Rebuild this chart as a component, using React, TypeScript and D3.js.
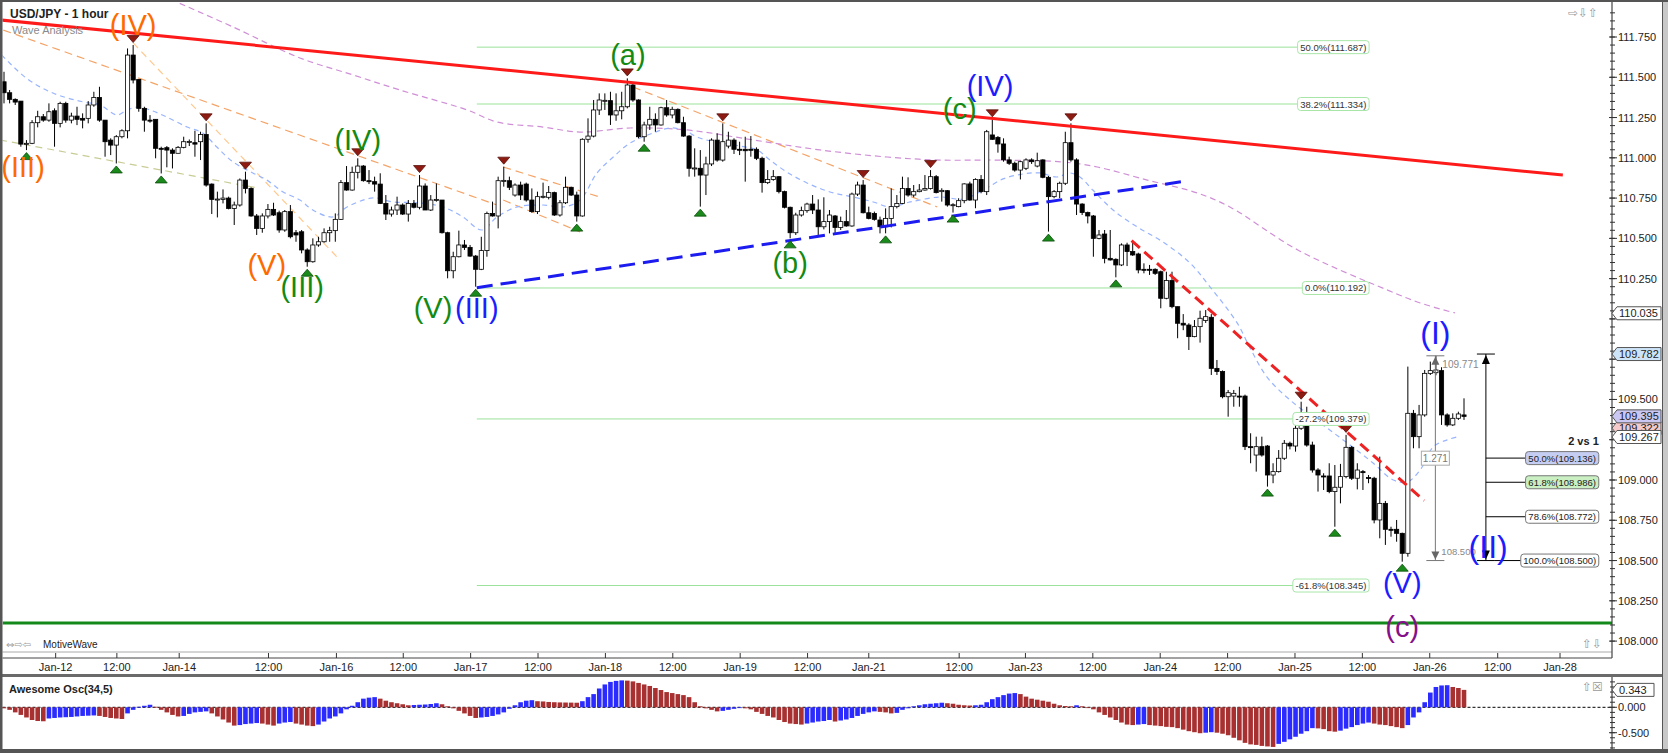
import React, { useEffect } from 'react';
import * as d3 from 'd3';

// ---------- DATA ----------
const opens = [111.472,111.404,111.363,111.352,111.085,111.090,111.218,111.255,111.234,111.292,111.214,111.338,111.234,111.259,111.245,111.245,111.328,111.375,111.234,111.110,111.079,111.131,111.168,111.638,111.487,111.307,111.234,111.239,111.059,111.063,111.048,111.028,111.065,111.100,111.094,111.100,111.145,110.837,110.742,110.742,110.750,110.686,110.707,110.862,110.810,110.639,110.562,110.639,110.680,110.659,110.552,110.666,110.535,110.541,110.428,110.355,110.459,110.479,110.535,110.548,110.618,110.846,110.800,110.910,110.949,110.858,110.852,110.837,110.717,110.651,110.676,110.707,110.651,110.717,110.693,110.825,110.676,110.738,110.738,110.535,110.299,110.386,110.459,110.444,110.390,110.308,110.424,110.655,110.639,110.858,110.858,110.769,110.831,110.837,110.738,110.666,110.759,110.755,110.784,110.645,110.721,110.817,110.769,110.639,111.115,111.135,111.297,111.355,111.355,111.266,111.292,111.317,111.452,111.359,111.131,111.204,111.239,111.204,111.311,111.266,111.301,111.218,111.135,110.935,110.935,110.893,110.962,111.110,110.986,111.073,111.110,111.053,111.053,111.053,111.053,110.997,110.846,110.866,110.883,110.790,110.693,110.535,110.645,110.672,110.713,110.676,110.572,110.604,110.639,110.568,110.604,110.577,110.775,110.831,110.659,110.655,110.614,110.572,110.624,110.697,110.717,110.810,110.769,110.790,110.800,110.810,110.883,110.790,110.796,110.707,110.697,110.734,110.838,110.738,110.866,110.790,111.142,111.127,111.086,110.987,110.966,110.924,110.935,110.987,110.949,110.987,110.879,110.759,110.790,110.842,111.094,110.987,110.713,110.660,110.639,110.500,110.527,110.376,110.370,110.335,110.459,110.418,110.403,110.308,110.308,110.308,110.293,110.128,110.238,110.076,109.973,109.962,109.890,109.952,109.990,110.010,109.693,109.673,109.517,109.521,109.521,109.521,109.207,109.155,109.207,109.211,109.031,109.052,109.135,109.228,109.211,109.321,109.377,109.217,109.062,109.025,109.025,108.928,108.955,109.021,109.203,109.011,109.052,109.015,109.011,108.752,108.855,108.694,108.694,108.669,108.545,109.414,109.269,109.404,109.662,109.666,109.679,109.404,109.342,109.383,109.404];
const highs = [111.534,111.421,111.369,111.352,111.110,111.234,111.292,111.272,111.338,111.307,111.348,111.348,111.280,111.317,111.276,111.352,111.410,111.441,111.234,111.121,111.141,111.177,111.679,111.700,111.487,111.317,111.265,111.239,111.069,111.073,111.059,111.073,111.131,111.114,111.168,111.162,111.214,110.841,110.790,110.804,110.759,110.728,110.872,110.914,110.817,110.651,110.655,110.713,110.721,110.672,110.676,110.707,110.552,110.552,110.438,110.500,110.510,110.562,110.572,110.655,110.862,110.949,110.945,110.997,110.955,110.924,110.883,110.904,110.769,110.697,110.759,110.717,110.738,110.738,110.893,110.841,110.769,110.841,110.738,110.541,110.417,110.548,110.490,110.459,110.397,110.510,110.666,110.728,110.883,110.945,110.883,110.841,110.852,110.846,110.810,110.790,110.846,110.825,110.790,110.738,110.883,110.821,110.790,111.121,111.245,111.359,111.400,111.400,111.410,111.400,111.410,111.493,111.462,111.363,111.224,111.317,111.276,111.317,111.359,111.317,111.307,111.255,111.141,111.059,111.048,111.007,111.121,111.152,111.214,111.162,111.121,111.100,111.131,111.135,111.065,111.007,110.924,110.924,110.887,110.796,110.697,110.659,110.697,110.721,110.769,110.742,110.755,110.676,110.645,110.635,110.676,110.784,110.852,110.862,110.697,110.666,110.635,110.686,110.810,110.769,110.883,110.879,110.831,110.837,110.893,110.924,110.893,110.811,110.800,110.718,110.749,110.842,110.852,110.873,110.893,111.173,111.239,111.135,111.121,111.007,110.976,110.982,110.997,110.997,111.032,110.991,110.887,110.800,110.852,111.162,111.214,110.997,110.718,110.666,110.645,110.552,110.552,110.552,110.376,110.469,110.473,110.480,110.411,110.345,110.335,110.314,110.300,110.293,110.293,110.076,110.030,109.973,109.993,110.051,110.055,110.030,109.745,109.680,109.559,109.559,109.579,109.530,109.290,109.269,109.269,109.217,109.104,109.186,109.248,109.238,109.362,109.486,109.455,109.238,109.073,109.042,109.104,109.093,109.100,109.280,109.211,109.104,109.062,109.031,109.020,109.145,108.870,108.710,108.752,108.673,109.704,109.435,109.466,109.683,109.735,109.771,109.700,109.414,109.414,109.424,109.507];
const lows = [111.338,111.338,111.328,111.069,111.048,111.085,111.189,111.224,111.224,111.069,111.189,111.218,111.214,111.203,111.183,111.214,111.317,111.224,111.007,111.017,110.965,111.121,111.121,111.462,111.286,111.162,111.218,110.997,110.903,110.941,110.934,111.028,111.059,111.073,111.007,110.986,110.821,110.651,110.630,110.717,110.680,110.583,110.697,110.779,110.634,110.521,110.535,110.624,110.639,110.535,110.541,110.500,110.479,110.407,110.324,110.349,110.448,110.473,110.479,110.479,110.614,110.796,110.796,110.872,110.852,110.837,110.790,110.713,110.614,110.635,110.645,110.645,110.604,110.686,110.680,110.676,110.670,110.728,110.530,110.252,110.252,110.382,110.428,110.386,110.200,110.303,110.386,110.635,110.562,110.821,110.800,110.759,110.738,110.728,110.659,110.651,110.748,110.742,110.639,110.635,110.713,110.763,110.604,110.635,111.094,111.127,111.266,111.297,111.204,111.230,111.239,111.307,111.348,111.121,111.100,111.173,111.162,111.200,111.255,111.245,111.214,111.131,110.883,110.883,110.697,110.769,110.949,110.976,110.976,111.059,111.024,111.017,110.852,111.007,110.986,110.784,110.837,110.858,110.779,110.686,110.500,110.521,110.635,110.659,110.651,110.521,110.556,110.531,110.531,110.552,110.572,110.572,110.763,110.655,110.618,110.610,110.531,110.531,110.568,110.686,110.713,110.759,110.755,110.786,110.796,110.803,110.779,110.728,110.697,110.660,110.693,110.718,110.734,110.687,110.780,110.769,111.111,111.032,110.976,110.956,110.914,110.866,110.924,110.962,110.941,110.873,110.542,110.749,110.749,110.831,110.976,110.645,110.645,110.593,110.386,110.494,110.345,110.362,110.258,110.328,110.328,110.391,110.283,110.283,110.273,110.273,110.066,110.122,110.066,109.880,109.930,109.807,109.886,109.853,109.975,109.652,109.652,109.507,109.393,109.455,109.455,109.186,109.104,109.052,109.145,108.959,108.980,109.046,109.124,109.190,109.176,109.311,109.207,109.046,108.928,108.938,108.918,108.710,108.855,109.011,109.000,108.942,108.938,108.980,108.731,108.638,108.597,108.648,108.617,108.493,108.524,109.197,109.197,109.393,109.652,109.650,109.342,109.331,109.335,109.373,109.373];
const closes = [111.404,111.363,111.346,111.085,111.090,111.218,111.255,111.234,111.286,111.214,111.338,111.234,111.259,111.239,111.234,111.328,111.375,111.234,111.100,111.079,111.131,111.168,111.638,111.483,111.307,111.234,111.230,111.059,111.056,111.048,111.028,111.065,111.100,111.102,111.085,111.145,110.831,110.742,110.744,110.750,110.686,110.707,110.862,110.810,110.639,110.562,110.639,110.680,110.645,110.552,110.666,110.510,110.521,110.428,110.355,110.459,110.479,110.535,110.548,110.618,110.846,110.800,110.910,110.949,110.858,110.852,110.837,110.717,110.651,110.676,110.707,110.651,110.717,110.693,110.825,110.676,110.738,110.742,110.535,110.299,110.386,110.459,110.444,110.390,110.308,110.424,110.655,110.639,110.858,110.860,110.817,110.831,110.769,110.738,110.666,110.759,110.761,110.784,110.645,110.721,110.817,110.769,110.639,111.115,111.135,111.297,111.359,111.357,111.266,111.292,111.317,111.452,111.359,111.131,111.204,111.239,111.204,111.311,111.266,111.301,111.218,111.135,110.935,110.937,110.893,110.962,111.110,110.986,111.100,111.110,111.053,111.048,111.044,111.051,110.997,110.846,110.866,110.883,110.790,110.693,110.535,110.645,110.672,110.713,110.676,110.572,110.604,110.645,110.568,110.604,110.577,110.775,110.831,110.659,110.624,110.618,110.572,110.624,110.697,110.717,110.810,110.769,110.790,110.800,110.810,110.883,110.784,110.798,110.707,110.709,110.734,110.838,110.738,110.866,110.790,111.162,111.115,111.086,110.987,110.966,110.924,110.976,110.987,110.976,110.982,110.879,110.759,110.790,110.842,111.094,110.987,110.713,110.660,110.639,110.500,110.521,110.376,110.366,110.335,110.459,110.418,110.397,110.304,110.306,110.304,110.283,110.128,110.238,110.076,109.973,109.962,109.890,109.952,110.004,110.014,109.693,109.673,109.517,109.542,109.538,109.519,109.207,109.205,109.207,109.155,109.031,109.052,109.135,109.228,109.211,109.321,109.377,109.217,109.062,109.031,109.023,108.928,108.955,109.021,109.203,109.011,109.062,109.050,109.013,108.752,108.855,108.694,108.692,108.669,108.545,109.414,109.269,109.404,109.662,109.679,109.683,109.404,109.342,109.383,109.410,109.395];

const aoValues = [-0.02,-0.05,-0.10,-0.15,-0.20,-0.25,-0.27,-0.275,-0.22,-0.21,-0.20,-0.195,-0.19,-0.18,-0.17,-0.165,-0.16,-0.17,-0.19,-0.21,-0.22,-0.23,-0.12,-0.05,0.01,0.03,0.05,0.01,-0.05,-0.10,-0.15,-0.18,-0.17,-0.13,-0.10,-0.09,-0.08,-0.12,-0.18,-0.24,-0.30,-0.36,-0.35,-0.33,-0.32,-0.31,-0.32,-0.34,-0.36,-0.32,-0.30,-0.29,-0.32,-0.34,-0.36,-0.37,-0.34,-0.28,-0.22,-0.18,-0.12,-0.04,0.03,0.10,0.17,0.19,0.20,0.17,0.13,0.10,0.08,0.06,0.04,0.045,0.05,0.055,0.065,0.08,0.06,0.02,-0.02,-0.07,-0.12,-0.17,-0.21,-0.20,-0.19,-0.17,-0.14,-0.10,-0.03,0.04,0.10,0.13,0.14,0.12,0.115,0.105,0.10,0.096,0.094,0.092,0.09,0.12,0.20,0.26,0.37,0.45,0.50,0.52,0.53,0.525,0.51,0.48,0.45,0.42,0.38,0.34,0.30,0.28,0.26,0.24,0.20,0.10,0.02,-0.02,-0.05,-0.08,-0.07,-0.05,-0.03,-0.01,-0.02,-0.04,-0.09,-0.13,-0.17,-0.20,-0.25,-0.29,-0.32,-0.33,-0.34,-0.32,-0.30,-0.28,-0.27,-0.25,
-0.28,-0.26,-0.24,-0.21,-0.17,-0.13,-0.10,-0.08,-0.09,-0.10,-0.12,-0.11,-0.05,-0.02,0.02,0.04,0.06,0.07,0.08,0.09,0.08,0.07,0.05,0.04,0.035,0.04,0.05,0.10,0.16,0.20,0.24,0.27,0.28,0.26,0.21,0.17,0.15,0.13,0.11,0.07,0.04,0.025,0.02,0.04,0.02,-0.01,-0.04,-0.10,-0.15,-0.20,-0.25,-0.30,-0.34,-0.35,-0.34,-0.33,-0.35,-0.36,-0.37,-0.385,-0.39,-0.41,-0.44,-0.47,-0.49,-0.51,-0.50,-0.49,-0.50,-0.52,-0.55,-0.60,-0.65,-0.70,-0.73,-0.74,-0.76,-0.77,-0.78,-0.72,-0.68,-0.63,-0.58,-0.52,-0.47,-0.41,-0.415,-0.43,-0.47,-0.48,-0.46,-0.42,-0.39,-0.35,-0.32,-0.30,-0.32,-0.34,-0.35,-0.37,-0.39,-0.41,-0.35,-0.20,-0.10,0.10,0.29,0.40,0.43,0.435,0.40,0.38,0.343];

const timeTickIndex = [10.2,21.1,32.2,48.1,60.2,72.1,84.1,96.1,108.1,120.1,132.1,144.1,155.0,171.1,182.9,194.9,206.9,218.9,230.9,242.9,254.9,267.0,278.1];
const timeTickLabels = ['Jan-12','12:00','Jan-14','12:00','Jan-16','12:00','Jan-17','12:00','Jan-18','12:00','Jan-19','12:00','Jan-21','12:00','Jan-23','12:00','Jan-24','12:00','Jan-25','12:00','Jan-26','12:00','Jan-28'];
const priceTickValues = [111.75,111.5,111.25,111.0,110.75,110.5,110.25,110.0,109.75,109.5,109.25,109.0,108.75,108.5,108.25,108.0];
const aoTickValues = [0, -0.5];

const fibLevels = [111.687,111.334,110.192,109.379,108.345];
const fibLabels = ['50.0%(111.687)','38.2%(111.334)','0.0%(110.192)','-27.2%(109.379)','-61.8%(108.345)'];
const retraceLevels = [109.136,108.986,108.772,108.500];
const retraceLabels = ['50.0%(109.136)','61.8%(108.986)','78.6%(108.772)','100.0%(108.500)'];
const retraceFills = ['#c6cdf2','#c9efc3','#ffffff','#ffffff'];

const swingHighIdx = [24,37,44,64,75,90,112,129,154,166,177,191,232,240];
const swingLowIdx = [5,21,29,55,85,103,115,125,141,158,170,187,199,226,238,250];

const blueMaIdx = [0.6,5.0,9.7,15.1,18.1,21.1,22.9,24.7,27.0,30.0,33.6,36.4,38.9,41.8,45.3,47.8,50.7,53.7,56.0,59.6,62.1,66.7,70.3,75.1,79.2,82.7,86.1,88.8,92.4,97.0,100.6,103.6,106.6,109.5,112.5,116.6,119.6,121.9,124.9,128.5,132.1,135.1,137.4,140.4,144.0,148.1,152.2,155.8,158.8,162.4,167.7,171.8,175.4,178.9,182.5,185.5,188.5,190.8,192.6,194.9,198.5,202.8,207.4,212.2,215.8,220.6,222.9,225.9,230.0,235.4,240.2,244.8,248.4,250.9,253.2,255.5,258.0,259.7];
const blueMaVal = [111.638,111.494,111.402,111.347,111.328,111.266,111.297,111.315,111.297,111.253,111.191,111.154,111.067,110.974,110.906,110.862,110.788,110.738,110.676,110.633,110.695,110.751,110.726,110.720,110.695,110.633,110.552,110.633,110.695,110.707,110.695,110.738,110.906,111.005,111.092,111.154,111.185,111.173,111.123,111.092,111.073,111.049,110.986,110.912,110.844,110.788,110.757,110.726,110.695,110.726,110.757,110.744,110.800,110.869,110.900,110.906,110.881,110.906,110.881,110.800,110.676,110.571,110.477,110.347,110.198,109.975,109.820,109.640,109.497,109.354,109.230,109.106,109.000,108.988,109.062,109.205,109.249,109.267];
const purpleMaIdx = [32.3,41.8,53.7,63.2,71.5,83.5,88.8,97.0,103.6,112.5,122.6,134.4,146.3,158.3,167.7,177.8,189.6,195.7,204.6,213.5,219.3,231.4,247.3,253.2,259.4];
const purpleMaVal = [111.959,111.812,111.620,111.514,111.421,111.297,111.222,111.191,111.160,111.185,111.173,111.111,111.049,111.005,110.986,110.986,110.974,110.943,110.862,110.782,110.695,110.428,110.180,110.099,110.037];

// trend / channel lines: [startIdx, startPrice, endIdx, endPrice]
const resistanceLine = [0.29, 111.856, 278.6, 110.893];
const supportLine = [85.2, 110.194, 211.5, 110.856];
const fallingLine = [201.8, 110.486, 253.9, 108.872];
const targetLevel = 108.112;
const orangeLines = [
  [0.88, 111.793, 88.8, 110.707],
  [89.9, 110.943, 107.1, 110.757],
  [89.9, 110.738, 103.6, 110.540],
  [113.0, 111.440, 167.2, 110.695],
];
const lightOrangeLines = [[24.0, 111.713, 60.8, 110.366]];
const oliveLines = [[0.29, 111.111, 46.1, 110.813]];

const waveText = ['(III)','(IV)','(V)','(III)','(IV)','(V)','(III)','(a)','(b)','(c)','(IV)','(I)','(V)','(II)','(c)'];
const waveIdx = [4.4,24.0,47.8,54.1,64.0,77.4,85.2,112.1,141.0,171.2,176.6,255.9,250.0,265.3,250.0];
const wavePrice = [110.943,111.824,110.335,110.198,111.111,110.068,110.068,111.638,110.347,111.305,111.447,109.913,108.361,108.584,108.088];
const waveDegree = ['o','o','o','g','g','g','b','g','g','g','b','b','b','b','p'];

const axisMarkers = [110.035, 109.782, 109.322, 109.395, 109.267];
const axisMarkerFills = ['#ffffff','#cde4f8','#f4caca','#cac8f2','#ffffff'];
const aoLast = 0.343;

const fibStartIdx = 85.2;
const fibLabelRightIdx = 244.1;
const measureIdx = 255.9;
const measureTop = 109.771;
const measureBottom = 108.5;
const measureRatio = '1.271';
const retraceIdx = 264.9;
const retraceTop = 109.782;
const retraceLabelRightIdx = 285.0;

// ---------- LAYOUT ----------
const W = 1668, H = 753;
const PL = 2.5, PR = 1612, PT = 2, PB = 652;
const OT = 677, OB = 749;
const FONT = "'Liberation Sans', Arial, sans-serif";
const colors: Record<string, string> = { o: '#ff6a00', g: '#138a13', b: '#1c1cff', p: '#85108a' };

const x = d3.scaleLinear().domain([1, 261]).range([4, 1464]);
const y = d3.scaleLinear().domain([108, 111.75]).range([641.1, 37]);
const yo = d3.scaleLinear().domain([-0.5, 0]).range([732.7, 707.3]);

function seg(l: number[]) {
  return { x1: x(l[0]), y1: y(l[1]), x2: x(l[2]), y2: y(l[3]) };
}

export default function App() {
  useEffect(() => {
    document.body.style.margin = '0';
  }, []);

  const candleW = 4.2;
  const blueMa = d3.line<number>().x((d, i) => x(blueMaIdx[i])).y(d => y(d)).curve(d3.curveCatmullRom)(blueMaVal) || '';
  const purpleMa = d3.line<number>().x((d, i) => x(purpleMaIdx[i])).y(d => y(d)).curve(d3.curveCatmullRom)(purpleMaVal) || '';

  const minorTicks: number[] = [];
  for (let k = 0; k <= 80; k++) {
    const v = 108 + k * 0.05;
    if (v <= 111.93) minorTicks.push(v);
  }
  const visiblePriceTicks = priceTickValues.filter(v => axisMarkers.every(m => Math.abs(y(m) - y(v)) > 9));

  const pointer = (yc: number, x0: number, w: number) =>
    `M${x0},${yc} L${x0 + 5},${yc - 6.5} L${x0 + w},${yc - 6.5} L${x0 + w},${yc + 6.5} L${x0 + 5},${yc + 6.5} Z`;

  const fibBoxW = (t: string) => t.length * 4.75 + 5;
  const xr = x(retraceIdx);
  const xm = x(measureIdx);
  const ymid = y((measureTop + measureBottom) / 2);

  return (
    <div style={{ position: 'absolute', left: 0, top: 0 }}>
      <svg width={W} height={H} style={{ display: 'block', fontFamily: FONT }}>
        <rect x={0} y={0} width={W} height={H} fill="#ffffff" />
        <defs>
          <clipPath id="plotClip">
            <rect x={PL} y={PT} width={PR - PL} height={PB - PT} />
          </clipPath>
        </defs>

        <g clipPath="url(#plotClip)">
          {fibLevels.map((v, i) => {
            const bw = fibBoxW(fibLabels[i]);
            const xRight = x(fibLabelRightIdx);
            return <line key={'fib' + i} x1={x(fibStartIdx)} x2={xRight - bw} y1={y(v)} y2={y(v)} stroke="#9be29b" strokeWidth={1} />;
          })}
          {oliveLines.map((l, i) => <line key={'ol' + i} {...seg(l)} stroke="#c9cc95" strokeWidth={1.2} strokeDasharray="7,5" />)}
          {orangeLines.map((l, i) => <line key={'or' + i} {...seg(l)} stroke="#f5a468" strokeWidth={1.2} strokeDasharray="8,5" />)}
          {lightOrangeLines.map((l, i) => <line key={'lo' + i} {...seg(l)} stroke="#ffc88e" strokeWidth={1.2} strokeDasharray="7,5" />)}
          <path d={purpleMa} fill="none" stroke="#cf8fd6" strokeWidth={1.2} strokeDasharray="6,4" />
          <path d={blueMa} fill="none" stroke="#98b4ff" strokeWidth={1.2} strokeDasharray="5,4" />

          <line x1={PL} x2={PR} y1={y(targetLevel)} y2={y(targetLevel)} stroke="#12891a" strokeWidth={3} />

          {closes.map((c, i) => {
            const o = opens[i];
            const xi = x(i + 1);
            const top = y(Math.max(o, c));
            const bot = y(Math.min(o, c));
            const up = c >= o;
            return (
              <g key={'c' + i}>
                <line x1={xi} x2={xi} y1={y(highs[i])} y2={y(lows[i])} stroke="#000" strokeWidth={1} />
                <rect x={xi - candleW / 2} y={top} width={candleW} height={Math.max(1, bot - top)}
                  fill={up ? '#ffffff' : '#000000'} stroke="#000" strokeWidth={0.8} />
              </g>
            );
          })}

          <line {...seg(resistanceLine)} stroke="#ff1a1a" strokeWidth={3} />
          <line {...seg(supportLine)} stroke="#1c1cf0" strokeWidth={3} strokeDasharray="16,8" />
          <line {...seg(fallingLine)} stroke="#ee2222" strokeWidth={3} strokeDasharray="11,6" />

          {swingHighIdx.map((k) => {
            const xi = x(k), yy = y(highs[k - 1]) - 2.5;
            return <path key={'sh' + k} d={`M${xi},${yy} L${xi - 6},${yy - 7} L${xi + 6},${yy - 7} Z`} fill="#8e1b12" stroke="#5a0f0a" strokeWidth={0.8} />;
          })}
          {swingLowIdx.map((k) => {
            const xi = x(k), yy = y(lows[k - 1]) + 2.5;
            return <path key={'sl' + k} d={`M${xi},${yy} L${xi - 6},${yy + 7} L${xi + 6},${yy + 7} Z`} fill="#1a8a1a" stroke="#0b4d0b" strokeWidth={0.8} />;
          })}

          {fibLevels.map((v, i) => {
            const bw = fibBoxW(fibLabels[i]);
            const xRight = x(fibLabelRightIdx);
            return (
              <g key={'fibl' + i}>
                <rect x={xRight - bw} y={y(v) - 6.5} width={bw} height={13} rx={3} fill="#ffffff" stroke="#a8e6a8" strokeWidth={1} />
                <text x={xRight - bw / 2} y={y(v) + 3.5} fontSize={9.5} fill="#333" textAnchor="middle">{fibLabels[i]}</text>
              </g>
            );
          })}

          <g stroke="#777" strokeWidth={1}>
            <line x1={xm} x2={xm} y1={y(measureTop)} y2={y(measureBottom)} />
            <line x1={xm - 9} x2={xm + 9} y1={y(measureTop)} y2={y(measureTop)} />
            <line x1={xm - 9} x2={xm + 9} y1={y(measureBottom)} y2={y(measureBottom)} />
          </g>
          <path d={`M${xm},${y(measureTop) + 1} L${xm - 4},${y(measureTop) + 9} L${xm + 4},${y(measureTop) + 9} Z`} fill="#666" />
          <path d={`M${xm},${y(measureBottom) - 1} L${xm - 4},${y(measureBottom) - 9} L${xm + 4},${y(measureBottom) - 9} Z`} fill="#666" />
          <text x={xm + 7} y={y(measureTop) + 12} fontSize={10} fill="#888">{measureTop.toFixed(3)}</text>
          <text x={xm + 6} y={y(measureBottom) - 6} fontSize={9.5} fill="#888">{measureBottom.toFixed(3)}</text>
          <rect x={xm - 14} y={ymid - 7} width={28} height={14} fill="#fff" stroke="#aaa" />
          <text x={xm} y={ymid + 4} fontSize={10} fill="#777" textAnchor="middle">{measureRatio}</text>

          <g stroke="#000" strokeWidth={1}>
            <line x1={xr} x2={xr} y1={y(retraceTop)} y2={y(measureBottom)} />
            <line x1={xr - 9} x2={xr + 9} y1={y(retraceTop)} y2={y(retraceTop)} />
            <line x1={xr - 9} x2={xr + 9} y1={y(measureBottom)} y2={y(measureBottom)} />
          </g>
          <path d={`M${xr},${y(retraceTop) + 1} L${xr - 4},${y(retraceTop) + 10} L${xr + 4},${y(retraceTop) + 10} Z`} fill="#000" />
          <path d={`M${xr},${y(measureBottom) - 1} L${xr - 4},${y(measureBottom) - 10} L${xr + 4},${y(measureBottom) - 10} Z`} fill="#000" />
          {retraceLevels.map((v, i) => {
            const bw = retraceLabels[i].length * 4.8 + 6;
            const xRight = x(retraceLabelRightIdx);
            return (
              <g key={'rt' + i}>
                <line x1={xr + (i === 3 ? 9 : 0)} x2={xRight - bw} y1={y(v)} y2={y(v)} stroke="#000" strokeWidth={1} />
                <rect x={xRight - bw} y={y(v) - 6.5} width={bw} height={13} rx={3} fill={retraceFills[i]} stroke="#777" strokeWidth={1} />
                <text x={xRight - bw / 2} y={y(v) + 3.5} fontSize={9.5} fill="#222" textAnchor="middle">{retraceLabels[i]}</text>
              </g>
            );
          })}
          <text x={x(retraceLabelRightIdx)} y={y(109.136) - 13} fontSize={11} fontWeight="bold" fill="#222" textAnchor="end">2 vs 1</text>

          {waveText.map((t, i) => (
            <text key={'w' + i} x={x(waveIdx[i])} y={y(wavePrice[i])} fontSize={(t === '(I)' || t === '(II)') && waveIdx[i] > 250 ? 32 : 29}
              fill={colors[waveDegree[i]]} textAnchor="middle" dominantBaseline="central">{t}</text>
          ))}

          <text x={10} y={18} fontSize={12} fontWeight="bold" fill="#222">USD/JPY - 1 hour</text>
          <text x={12} y={34} fontSize={11} fill="#8a8a8a">Wave Analysis</text>
          <text x={1568} y={17} fontSize={12} fill="#999" fontFamily="DejaVu Sans">⇨⇩⇧</text>
          <text x={6} y={648} fontSize={10} fill="#999" fontFamily="DejaVu Sans">⇔⇨⇦</text>
          <text x={43} y={648} fontSize={10} fill="#222">MotiveWave</text>
          <text x={1582} y={648} fontSize={12} fill="#999" fontFamily="DejaVu Sans">⇧⇩</text>
        </g>

        <line x1={PL} x2={PR} y1={PB} y2={PB} stroke="#aaa" strokeWidth={1} />
        <line x1={PL} x2={PR} y1={658} y2={658} stroke="#444" strokeWidth={1} />
        <line x1={PR} x2={PR} y1={PT} y2={658} stroke="#444" strokeWidth={1.2} />

        {minorTicks.map((v, i) => (
          <line key={'mt' + i} x1={PR - 2} x2={PR + 3} y1={y(v)} y2={y(v)} stroke="#333" strokeWidth={1} />
        ))}
        {priceTickValues.map((v, i) => (
          <line key={'ptl' + i} x1={PR - 3} x2={PR + 5} y1={y(v)} y2={y(v)} stroke="#333" strokeWidth={1} />
        ))}
        {visiblePriceTicks.map((v, i) => (
          <text key={'pt' + i} x={PR + 6} y={y(v) + 4} fontSize={11} fill="#222">{v.toFixed(3)}</text>
        ))}
        {axisMarkers.map((v, i) => (
          <g key={'am' + i}>
            <path d={pointer(y(v), PR, 49)} fill={axisMarkerFills[i]} stroke="#555" strokeWidth={1} />
            <text x={PR + 7} y={y(v) + 4} fontSize={11} fill="#222">{v.toFixed(3)}</text>
          </g>
        ))}

        {timeTickIndex.map((t, i) => (
          <g key={'tt' + i}>
            <line x1={x(t)} x2={x(t)} y1={653} y2={658} stroke="#333" strokeWidth={1} />
            <text x={x(t)} y={671} fontSize={11} fill="#222" textAnchor="middle">{timeTickLabels[i]}</text>
          </g>
        ))}

        <rect x={0} y={674} width={W} height={3} fill="#6a6a6a" />

        <line x1={PL} x2={PR} y1={yo(0)} y2={yo(0)} stroke="#000" strokeWidth={1} strokeDasharray="3,2" />
        {aoValues.map((v, i) => {
          const xi = x(i + 1);
          const up = i > 0 && v > aoValues[i - 1];
          const y0 = yo(0), y1 = yo(v);
          return (
            <rect key={'ao' + i} x={xi - 2.3} y={Math.min(y0, y1)} width={4.6} height={Math.max(0.8, Math.abs(y1 - y0))}
              fill={up ? '#2b2bff' : '#a83030'} />
          );
        })}
        <text x={9} y={693} fontSize={11} fontWeight="bold" fill="#222">Awesome Osc(34,5)</text>
        <text x={1582} y={691} fontSize={12} fill="#999" fontFamily="DejaVu Sans">⇧☒</text>
        <line x1={PR} x2={PR} y1={OT} y2={OB} stroke="#444" strokeWidth={1.2} />
        {[0.5, 0.4, 0.3, 0.2, 0.1, 0, -0.1, -0.2, -0.3, -0.4, -0.5, -0.6, -0.7, -0.8].map((v, i) => {
          const yy = yo(v);
          if (yy < OT + 2 || yy > OB - 1) return null;
          return <line key={'aom' + i} x1={PR - 2} x2={PR + 3} y1={yy} y2={yy} stroke="#333" strokeWidth={1} />;
        })}
        {aoTickValues.map((v, i) => (
          <g key={'aot' + i}>
            <line x1={PR - 3} x2={PR + 5} y1={yo(v)} y2={yo(v)} stroke="#333" strokeWidth={1} />
            <text x={PR + 6} y={yo(v) + 4} fontSize={11} fill="#222">{v.toFixed(3)}</text>
          </g>
        ))}
        <path d={pointer(yo(aoLast), PR, 42)} fill="#fff" stroke="#555" strokeWidth={1} />
        <text x={PR + 7} y={yo(aoLast) + 4} fontSize={11} fill="#222">{aoLast.toFixed(3)}</text>

        <rect x={1662} y={0} width={6} height={H} fill="#c8c8c8" />
        <line x1={1662.5} x2={1662.5} y1={0} y2={H} stroke="#555" strokeWidth={1} />
        <rect x={0} y={0} width={2.5} height={H} fill="#555" />
        <rect x={0} y={0} width={W} height={2} fill="#555" />
        <rect x={0} y={OB} width={W} height={H - OB} fill="#555" />
      </svg>
    </div>
  );
}
